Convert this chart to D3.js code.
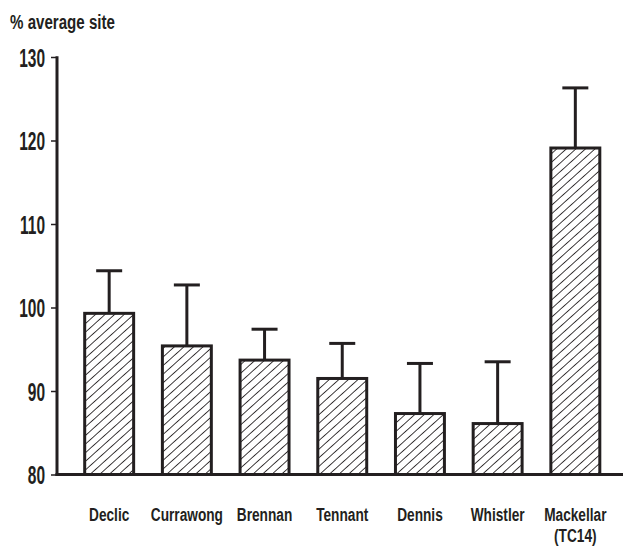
<!DOCTYPE html>
<html>
<head>
<meta charset="utf-8">
<script src="https://cdn.jsdelivr.net/npm/d3@7"></script>
<style>
  html, body { margin: 0; padding: 0; background: #fff; }
  svg { display: block; }
  text { font-family: "Liberation Sans", Arial, sans-serif; font-weight: bold; fill: #231f20; }
</style>
</head>
<body>
<svg id="chart" width="623" height="546"></svg>
<script>
// Site means (% of average site) with upper standard-error whiskers
const sites = ["Declic", "Currawong", "Brennan", "Tennant", "Dennis", "Whistler", "Mackellar\n(TC14)"];
const means = [99.3, 95.4, 93.7, 91.5, 87.3, 86.1, 119.1];
const errors = [5.1, 7.3, 3.7, 4.2, 6.0, 7.4, 7.2];
const yTicks = [80, 90, 100, 110, 120, 130];
const yTitle = "% average site";

const ink = "#231f20";
const svg = d3.select("#chart");

const y = d3.scaleLinear().domain([80, 130]).range([474.5, 57]);
const x = d3.scaleBand().domain(sites).range([57.5, 627])
  .paddingInner(0.37).paddingOuter(0.35);

// diagonal hatch fill
const defs = svg.append("defs");
const pat = defs.append("pattern")
  .attr("id", "hatch")
  .attr("patternUnits", "userSpaceOnUse")
  .attr("width", 10).attr("height", 6.4)
  .attr("patternTransform", "rotate(-42)");
pat.append("rect").attr("width", 10).attr("height", 6.4).attr("fill", "#fff");
pat.append("line")
  .attr("x1", 0).attr("x2", 10).attr("y1", 3.2).attr("y2", 3.2)
  .attr("stroke", ink).attr("stroke-width", 0.9);

const rows = sites.map((s, i) => ({ site: s, mean: means[i], err: errors[i] }));

// bars
svg.append("g").selectAll("rect").data(rows).join("rect")
  .attr("x", d => x(d.site))
  .attr("width", x.bandwidth())
  .attr("y", d => y(d.mean))
  .attr("height", d => y(80) - y(d.mean))
  .attr("fill", "url(#hatch)")
  .attr("stroke", ink)
  .attr("stroke-width", 3);

// error whiskers
const eb = svg.append("g").attr("stroke", ink).attr("stroke-width", 3);
eb.selectAll("line.stem").data(rows).join("line").attr("class", "stem")
  .attr("x1", d => x(d.site) + x.bandwidth() / 2)
  .attr("x2", d => x(d.site) + x.bandwidth() / 2)
  .attr("y1", d => y(d.mean))
  .attr("y2", d => y(d.mean + d.err));
eb.selectAll("line.cap").data(rows).join("line").attr("class", "cap")
  .attr("x1", d => x(d.site) + x.bandwidth() / 2 - 13)
  .attr("x2", d => x(d.site) + x.bandwidth() / 2 + 13)
  .attr("y1", d => y(d.mean + d.err))
  .attr("y2", d => y(d.mean + d.err));

// y axis (condensed numerals)
const numScale = 0.62;
const yAxis = svg.append("g").attr("transform", "translate(57,0)")
  .call(d3.axisLeft(y).tickValues(yTicks).tickSize(6).tickPadding(9).tickFormat(d3.format("d")));
yAxis.select(".domain").remove();
yAxis.selectAll(".tick line").attr("stroke", ink).attr("stroke-width", 1.5);
yAxis.selectAll(".tick text")
  .style("font-size", "25px").attr("fill", ink)
  .attr("x", -12 / numScale).attr("dy", "0.36em")
  .attr("transform", `scale(${numScale},1)`);
svg.append("line")
  .attr("x1", 57).attr("x2", 57)
  .attr("y1", y(130) - 0.75).attr("y2", y(80) + 1.5)
  .attr("stroke", ink).attr("stroke-width", 3);

// x axis baseline
svg.append("line")
  .attr("x1", 55.5).attr("x2", 623)
  .attr("y1", y(80)).attr("y2", y(80))
  .attr("stroke", ink).attr("stroke-width", 3);

// category labels: one condensed text element per line
const labelLines = sites.flatMap(s =>
  s.split("\n").map((line, i) => ({ site: s, line, i })));
svg.append("g").selectAll("text").data(labelLines).join("text")
  .attr("text-anchor", "middle")
  .attr("transform", d => `translate(${x(d.site) + x.bandwidth() / 2},${521 + d.i * 21.3}) scale(0.72,1)`)
  .style("font-size", "19px")
  .text(d => d.line);

// y title
svg.append("text")
  .attr("transform", "translate(10,29) scale(0.72,1)")
  .style("font-size", "21px").text(yTitle);
</script>
</body>
</html>
